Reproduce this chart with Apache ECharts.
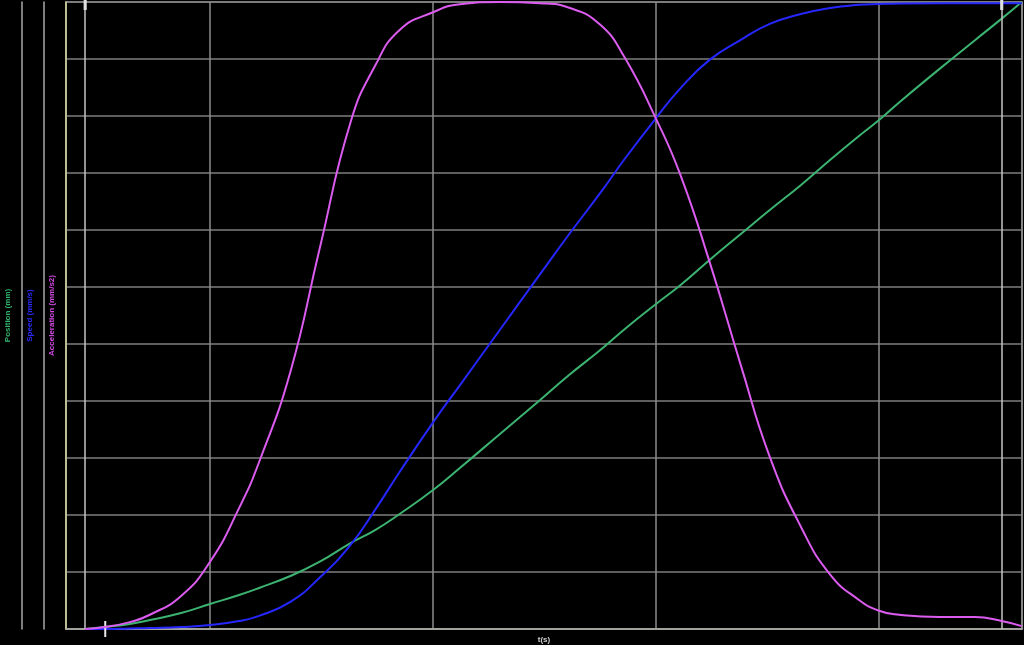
<!DOCTYPE html>
<html>
<head>
<meta charset="utf-8">
<script src="https://cdn.jsdelivr.net/npm/echarts@6/dist/echarts.min.js"></script>
<style>
html,body{margin:0;padding:0;background:#000;}
#chart{width:1024px;height:645px;}
</style>
</head>
<body>
<div id="chart"></div>
<script>
// time samples (s)
const time = [0.44, 0.53, 0.64, 0.73, 0.87, 1.00, 1.13, 1.22, 1.36, 1.49, 1.63, 1.74, 1.85, 2.00, 2.12, 2.30, 2.48, 2.61, 2.75, 2.86, 3.00, 3.11, 3.24, 3.38, 3.51, 3.65, 3.78, 3.91, 4.00, 4.09, 4.27, 4.43, 4.55, 4.64];
// Position (mm)
const position = [0, 1.8, 4.4, 7.9, 14.0, 21.9, 29.8, 36.0, 46.5, 58.8, 75.4, 86.8, 100.9, 121.9, 141.2, 171.1, 200.9, 222.8, 244.7, 263.2, 285.1, 301.8, 323.7, 346.5, 367.5, 389.5, 411.4, 432.5, 446.5, 461.9, 491.1, 516.5, 535.4, 550];
// Speed (mm/s)
const speed = [0, 0, 0.2, 0.35, 0.7, 1.4, 2.8, 4.6, 9.5, 17.9, 29.5, 41.8, 55.1, 72.5, 85.5, 105.0, 124.5, 138.5, 153.0, 165.0, 179.3, 189.8, 199.7, 206.7, 212.3, 215.8, 217.9, 219.0, 219.3, 219.5, 219.6, 219.6, 219.6, 219.6];
// Acceleration (mm/s2)
const acceleration = [0, 0.35, 1.2, 2.5, 5.8, 11.8, 21.2, 29.3, 45.1, 66.5, 88.9, 98.8, 105.1, 108.2, 109.6, 110, 109.8, 109.0, 106.0, 100.2, 89.5, 79.6, 64.4, 46.3, 30.2, 17.9, 9.6, 5.1, 3.2, 2.5, 2.1, 2.1, 1.4, 0.5];
// cursor positions (s)
const cursors = [0.44, 4.55];
const pointer = [0.53, 0];
const axisNames = ['Position (mm)', 'Speed (mm/s)', 'Acceleration (mm/s2)'];
const xName = 't(s)';

const chart = echarts.init(document.getElementById('chart'));
const zip = (a) => time.map((t, i) => [t, a[i]]);

chart.setOption({
  backgroundColor: '#000',
  animation: false,
  grid: { left: 66, right: 2, top: 2, bottom: 16, show: true, borderColor: '#a0a0a0', borderWidth: 1.5, containLabel: false, outerBoundsMode: 'none' },
  xAxis: {
    type: 'value', min: 0.354, max: 4.641, splitNumber: 4,
    name: xName, nameLocation: 'middle', nameGap: 7,
    nameTextStyle: { color: '#d0d0d0', fontSize: 8, fontWeight: 'bold', fontFamily: 'Liberation Sans' },
    axisLine: { lineStyle: { color: '#b0b0a8', width: 1.5 } },
    axisTick: { show: false }, axisLabel: { show: false },
    splitLine: { show: true, lineStyle: { color: '#8c8c8c', width: 1.5 } }
  },
  yAxis: [
    {
      type: 'value', min: 0, max: 550, interval: 50, position: 'left', offset: 44,
      name: axisNames[0], nameLocation: 'middle', nameGap: 10,
      nameTextStyle: { color: '#2fb46a', fontSize: 8, fontWeight: 'bold', fontFamily: 'Liberation Sans' },
      axisLine: { show: true, lineStyle: { color: '#a8a8a8', width: 1.5 } },
      axisTick: { show: false }, axisLabel: { show: false }, splitLine: { show: false }
    },
    {
      type: 'value', min: 0, max: 220, interval: 20, position: 'left', offset: 22,
      name: axisNames[1], nameLocation: 'middle', nameGap: 10,
      nameTextStyle: { color: '#2a2aff', fontSize: 8, fontWeight: 'bold', fontFamily: 'Liberation Sans' },
      axisLine: { show: true, lineStyle: { color: '#a8a8a8', width: 1.5 } },
      axisTick: { show: false }, axisLabel: { show: false }, splitLine: { show: false }
    },
    {
      type: 'value', min: 0, max: 110, interval: 10, position: 'left', offset: 0,
      name: axisNames[2], nameLocation: 'middle', nameGap: 10,
      nameTextStyle: { color: '#d64be6', fontSize: 8, fontWeight: 'bold', fontFamily: 'Liberation Sans' },
      axisLine: { show: true, lineStyle: { color: '#cfcf98', width: 1.5 } },
      axisTick: { show: false }, axisLabel: { show: false },
      splitLine: { show: true, lineStyle: { color: '#7e7e7e', width: 1.5 } }
    }
  ],
  series: [
    {
      name: axisNames[0], type: 'line', yAxisIndex: 0, data: zip(position),
      showSymbol: false, smooth: 0.5,
      lineStyle: { color: '#3cb371', width: 2 }, z: 3,
      markLine: {
        silent: true, symbol: 'none',
        lineStyle: { color: '#c4c4c4', width: 1.5, type: 'solid' },
        label: { show: true, position: 'end', formatter: ' ', backgroundColor: '#e0e0e0', padding: [3, 1], distance: -8, fontSize: 4 },
        data: cursors.map(c => ({ xAxis: c }))
      },
      markPoint: {
        silent: true, symbol: 'rect', symbolSize: [2, 16],
        itemStyle: { color: '#e8e8e8' }, label: { show: false },
        data: [{ coord: pointer }]
      }
    },
    {
      name: axisNames[1], type: 'line', yAxisIndex: 1, data: zip(speed),
      showSymbol: false, smooth: 0.5,
      lineStyle: { color: '#2626ff', width: 2 }, z: 4
    },
    {
      name: axisNames[2], type: 'line', yAxisIndex: 2, data: zip(acceleration),
      showSymbol: false, smooth: 0.5,
      lineStyle: { color: '#dc5cf0', width: 2 }, z: 5
    }
  ]
});
</script>
</body>
</html>
